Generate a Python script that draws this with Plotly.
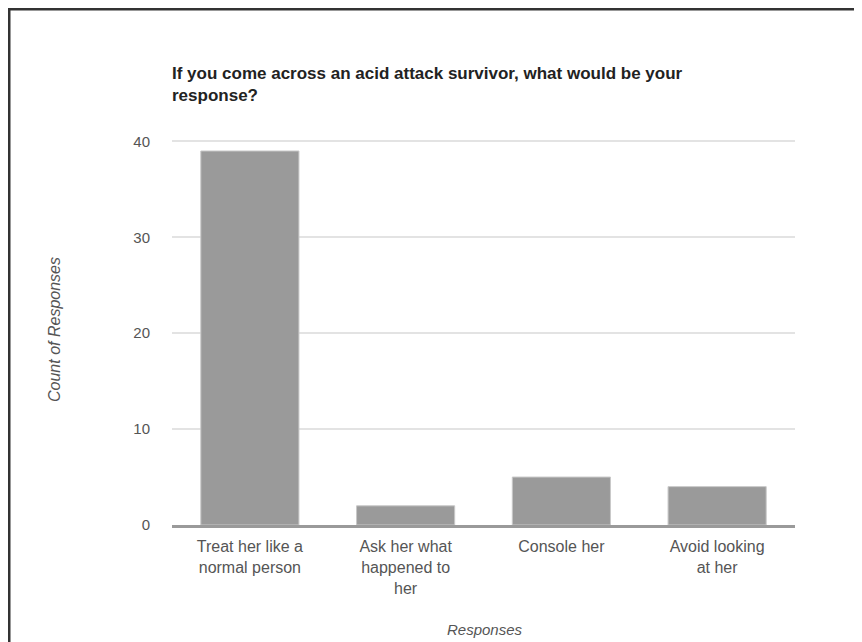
import plotly.graph_objects as go

categories = ["Treat her like a<br>normal person", "Ask her what<br>happened to<br>her", "Console her", "Avoid looking<br>at her"]
counts = [39, 2, 5, 4]
y_ticks = [0, 10, 20, 30, 40]

title_text = "If you come across an acid attack survivor, what would be your<br>response?"
x_title = "Responses"
y_title = "Count of Responses"

FONT = "Liberation Sans, Arial, sans-serif"

# page offset of the plot div inside the browser (default body margin)
OFF = 8
W, H = 862 - OFF, 642 - OFF
L, R, T, B = 172 - OFF, 795 - OFF, 139 - OFF, 525 - OFF
pw, ph = R - L, B - T

def px(xpix):
    return (xpix - OFF - L) / pw

def py(ypix):
    return (B - (ypix - OFF)) / ph

fig = go.Figure()
fig.add_trace(go.Bar(
    x=categories, y=counts,
    marker=dict(color="#9a9a9a", line=dict(color="#c8c8c8", width=1)),
    hoverinfo="x+y",
))

fig.update_layout(
    width=W, height=H,
    margin=dict(l=L, r=W - R, t=T, b=H - B, pad=0),
    paper_bgcolor="white", plot_bgcolor="white",
    bargap=0.37,
    showlegend=False,
    font=dict(family=FONT, color="#444444"),
    xaxis=dict(
        type="category",
        showgrid=False, zeroline=False,
        showline=True, linecolor="#9a9a9a", linewidth=3,
        ticks="outside", ticklen=5, tickcolor="rgba(0,0,0,0)",
        tickfont=dict(size=16, color="#555555", family=FONT),
        tickangle=0,
    ),
    yaxis=dict(
        range=[0, 40.25], tickvals=y_ticks,
        showgrid=True, gridcolor="#e3e3e3", gridwidth=2,
        zeroline=False, showline=False,
        ticks="outside", ticklen=18, tickcolor="rgba(0,0,0,0)",
        tickfont=dict(size=15, color="#555555", family=FONT),
    ),
    annotations=[
        dict(text="<b>" + title_text + "</b>", xref="paper", yref="paper",
             x=px(170), y=py(62), xanchor="left", yanchor="top", align="left",
             showarrow=False, font=dict(size=17, color="#222222", family=FONT)),
        dict(text="<i>" + y_title + "</i>", xref="paper", yref="paper",
             x=px(54), y=py(330), xanchor="center", yanchor="middle",
             textangle=-90, showarrow=False,
             font=dict(size=16, color="#555555", family=FONT)),
        dict(text="<i>" + x_title + "</i>", xref="paper", yref="paper",
             x=px(485), y=py(629), xanchor="center", yanchor="middle",
             showarrow=False, font=dict(size=15, color="#555555", family=FONT)),
    ],
    shapes=[
        dict(type="rect", xref="paper", yref="paper",
             x0=px(9), y0=py(700), x1=px(900), y1=py(9),
             line=dict(color="#333333", width=3), fillcolor="rgba(0,0,0,0)", layer="above"),
    ],
)

fig.write_html("out.html")
